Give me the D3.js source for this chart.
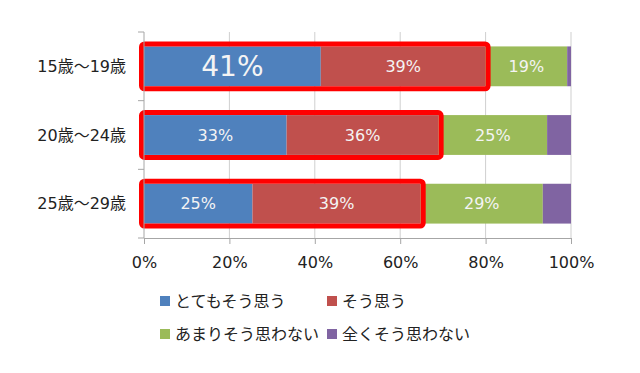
<!DOCTYPE html>
<html>
<head>
<meta charset="utf-8">
<script src="https://cdn.jsdelivr.net/npm/d3@7"></script>
<style>
  body { margin: 0; background: #fff; }
  text { font-family: "DejaVu Sans", "Noto Sans CJK JP", sans-serif; }
</style>
</head>
<body>
<div id="chart"></div>
<script>
// Data (percent of respondents)
const ageGroups = ["15歳〜19歳", "20歳〜24歳", "25歳〜29歳"];
const seriesNames = ["とてもそう思う", "そう思う", "あまりそう思わない", "全くそう思わない"];
const seriesColors = ["#4f81bd", "#c0504d", "#9bbb59", "#8064a2"];
const veryMuch = [41.4, 33.4, 25.4];
const somewhat = [38.6, 35.6, 39.4];
const notMuch = [19.1, 25.4, 28.6];
const notAtAll = [0.9, 5.6, 6.6];
const xTicks = [0, 20, 40, 60, 80, 100];

const width = 640, height = 373;

const svg = d3.select("#chart")
  .append("svg")
    .attr("width", width)
    .attr("height", height);

const x = d3.scaleLinear()
    .domain([0, 100])
    .range([144, 571]);

const y = d3.scaleBand()
    .domain(ageGroups)
    .range([32, 238])
    .paddingInner(0.42)
    .paddingOuter(0.21);

// Build stacked segments
const values = [veryMuch, somewhat, notMuch, notAtAll];
const rows = ageGroups.map((g, i) => {
  let start = 0;
  return values.map((s, k) => {
    const seg = {group: g, key: k, x0: start, x1: start + s[i], v: s[i], row: i};
    start += s[i];
    return seg;
  });
});
const segments = rows.flat();

// Vertical gridlines
svg.append("g")
  .selectAll("line")
  .data(xTicks.slice(1))
  .join("line")
    .attr("x1", d => x(d))
    .attr("x2", d => x(d))
    .attr("y1", y.range()[0])
    .attr("y2", y.range()[1])
    .attr("stroke", "#cfcfcf")
    .attr("stroke-width", 1);

// Bars
svg.append("g")
  .selectAll("rect")
  .data(segments)
  .join("rect")
    .attr("x", d => x(d.x0))
    .attr("y", d => y(d.group))
    .attr("width", d => x(d.x1) - x(d.x0))
    .attr("height", y.bandwidth())
    .attr("fill", d => seriesColors[d.key]);

// Data labels (not on the thin purple segment)
svg.append("g")
  .selectAll("text")
  .data(segments.filter(d => d.key < 3))
  .join("text")
    .attr("x", d => (x(d.x0) + x(d.x1)) / 2)
    .attr("y", d => y(d.group) + y.bandwidth() / 2)
    .attr("dy", "0.36em")
    .attr("text-anchor", "middle")
    .attr("fill", "#f4f4f4")
    .style("font-size", d => (d.row === 0 && d.key === 0) ? "28px" : "16px")
    .text(d => Math.round(d.v) + "%");

// Red highlight boxes around the two positive answers
svg.append("g")
  .selectAll("rect")
  .data(rows)
  .join("rect")
    .attr("x", d => x(0) - 2.5)
    .attr("y", d => y(d[0].group) - 2.5)
    .attr("width", d => x(d[1].x1) - x(0) + 5)
    .attr("height", y.bandwidth() + 5)
    .attr("rx", 3)
    .attr("fill", "none")
    .attr("stroke", "#ff0000")
    .attr("stroke-width", 5);

// X axis
const xAxis = svg.append("g")
  .attr("transform", `translate(0,${y.range()[1]})`)
  .call(d3.axisBottom(x).tickValues(xTicks).tickSize(6).tickSizeOuter(0).tickFormat(d => d + "%"));
xAxis.select(".domain").attr("stroke", "#a6a6a6");
xAxis.selectAll(".tick line").attr("stroke", "#a6a6a6");
xAxis.selectAll(".tick text")
  .attr("y", 24)
  .attr("dy", "0.36em")
  .attr("fill", "#222")
  .style("font-size", "16px")
  .style("font-family", "\"DejaVu Sans\", sans-serif");

// Y axis line and boundary ticks
const step = y.step();
const bounds = ageGroups.map(g => y(g) - step * y.paddingInner() / 2).concat([y.range()[1]]);
svg.append("line")
    .attr("x1", x(0)).attr("x2", x(0))
    .attr("y1", y.range()[0]).attr("y2", y.range()[1])
    .attr("stroke", "#a6a6a6");
svg.append("g")
  .selectAll("line")
  .data(bounds)
  .join("line")
    .attr("x1", x(0) - 6)
    .attr("x2", x(0))
    .attr("y1", d => d)
    .attr("y2", d => d)
    .attr("stroke", "#a6a6a6");

// Category labels
svg.append("g")
  .selectAll("text")
  .data(ageGroups)
  .join("text")
    .attr("x", 126)
    .attr("y", d => y(d) + y.bandwidth() / 2)
    .attr("dy", "0.36em")
    .attr("text-anchor", "end")
    .attr("fill", "#222")
    .style("font-size", "16px")
    .text(d => d);

// Legend (2 x 2)
const legendX = [160, 327], legendY = [301, 334];
const legend = svg.append("g")
  .selectAll("g")
  .data(seriesNames)
  .join("g")
    .attr("transform", (d, i) => `translate(${legendX[i % 2]},${legendY[Math.floor(i / 2)]})`);
legend.append("rect")
    .attr("x", 0)
    .attr("y", -5)
    .attr("width", 10)
    .attr("height", 10)
    .attr("fill", (d, i) => seriesColors[i]);
legend.append("text")
    .attr("x", 15)
    .attr("dy", "0.36em")
    .attr("fill", "#222")
    .style("font-size", "16px")
    .text(d => d);
</script>
</body>
</html>
